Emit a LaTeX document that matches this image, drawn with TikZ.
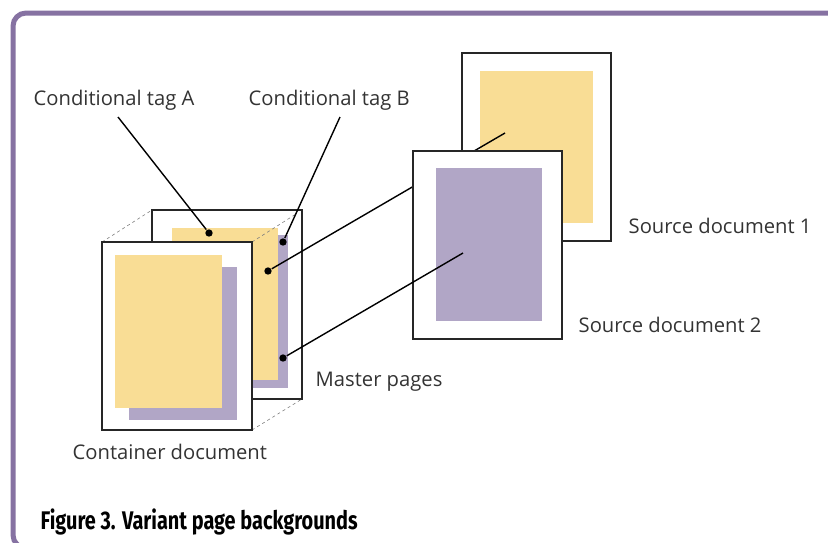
\documentclass[tikz,border=0pt]{standalone}
\usepackage{fontspec}
\setmainfont{Open Sans}
\newfontfamily\capfont[FakeStretch=0.78]{Fira Sans}
\usetikzlibrary{calc}
\definecolor{frame}{HTML}{8672A2}
\definecolor{ylw}{HTML}{F9DD95}
\definecolor{lila}{HTML}{B1A6C6}
\definecolor{txt}{HTML}{333333}
\tikzset{
  pg/.style={draw=black!85,fill=white,line width=1.4pt},
  d/.style={circle,fill,inner sep=2.6pt},
  lbl/.style={anchor=west,inner sep=0pt,text=txt,font=\fontsize{20.2}{22}\selectfont},
  dsh/.style={dashed,gray,line width=0.6pt,dash pattern=on 3pt off 3pt},
  every picture/.style={line width=1.4pt},
}
\begin{document}
\begin{tikzpicture}[x=1pt,y=-1pt]
\useasboundingbox (0,0) rectangle (828,542); \clip (0,0) rectangle (828,542);
\draw[frame,line width=5pt,rounded corners=13pt] (830,13)--(13,13)--(13,548)--(60,548);
% master pages, back
\draw[pg] (152,210) rectangle (302,399);
\fill[lila] (182,235) rectangle (288,388); \fill[ylw] (172,228) rectangle (278,380);
\draw[dsh] (102,242)--(152,210); \draw[dsh] (252,242)--(296,214); \draw[dsh] (252,430)--(302,399);
% container document, front
\draw[pg] (102,242) rectangle (252,430);
\fill[lila] (129,267) rectangle (237,420); \fill[ylw] (115,255) rectangle (222,408);
% source documents
\draw[pg] (462,53) rectangle (611,241); \fill[ylw] (480,71) rectangle (593,223);
\node[d] (dA) at (209,233){}; \node[d] (dB) at (283,242){};
\node[d] (dY) at (268,271){}; \node[d] (dP) at (283,358){};
\coordinate (s1) at (505,133); \coordinate (s2) at (463,253);
\draw (dY)--(s1);
\draw[pg] (413,151) rectangle (562,339); \fill[lila] (436,168) rectangle (542,321);
\draw (dP)--(s2);
% labels
\node[lbl] (tA) at (33,100){Conditional tag A}; \node[lbl] (tB) at (248,100){Conditional tag B};
\coordinate (cA) at (118,117); \coordinate (cB) at (340,117);
\draw (cA)--(dA); \draw (cB)--(dB);
\node[lbl] (src1) at (628,226){Source document 1}; \node[lbl] (src2) at (578,325){Source document 2};
\node[lbl] (mp) at (315,382){Master pages}; \node[lbl] (cd) at (72,452){Container document};
\node[anchor=west,inner sep=0pt,font=\capfont\bfseries\fontsize{25.5}{28}\selectfont] (cap) at (40,522){Figure 3. Variant page backgrounds};
\end{tikzpicture}
\end{document}
